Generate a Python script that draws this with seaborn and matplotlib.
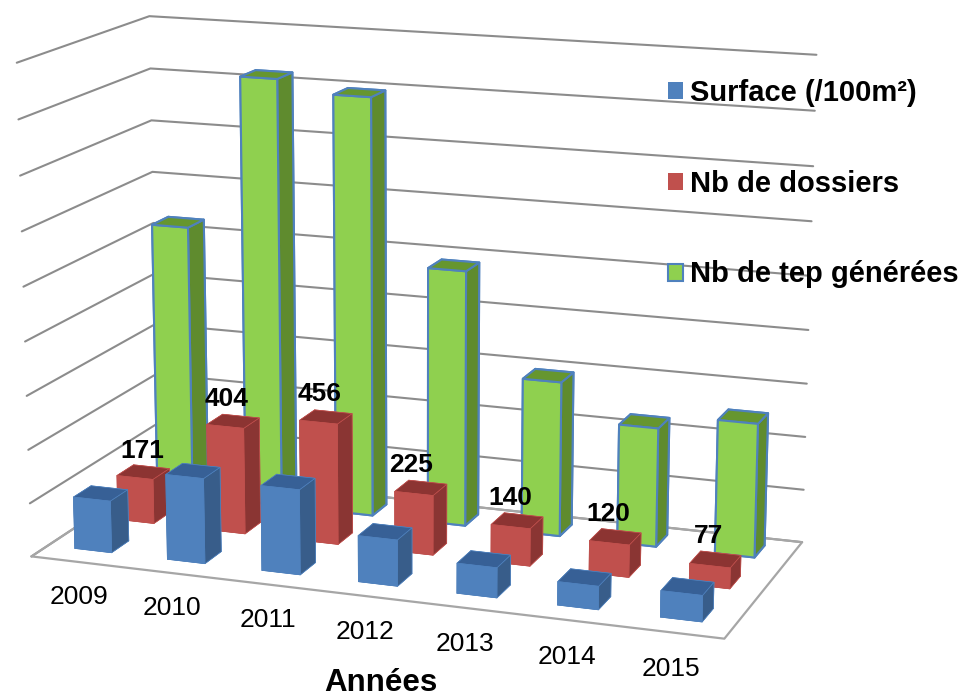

import numpy as np, matplotlib
matplotlib.use('Agg')
import matplotlib.pyplot as plt
import seaborn as sns
from matplotlib.patches import Patch
from mpl_toolkits.mplot3d import Axes3D, proj3d

years = ['2009', '2010', '2011', '2012', '2013', '2014', '2015']
surface = [195, 318, 315, 170, 110, 85, 95]
dossiers = [171, 404, 456, 225, 140, 120, 77]
tep = [1049, 1635, 1590, 970, 585, 447, 500]
series_names = ['Surface (/100m²)', 'Nb de dossiers', 'Nb de tep générées']
series_values = [surface, dossiers, tep]
front_colors = ['#4F81BD', '#C0504D', '#8FD04F']
top_colors = ['#376096', '#8C3432', '#66962F']
side_colors = ['#385D8A', '#8A3533', '#5F8B2E']
edge_colors = ['#4F81BD', '#C0504D', '#4F81BD']
z_ticks = np.arange(0, 2000, 200)

sns.set_theme(style='white')
plt.rcParams['font.family'] = ['Liberation Sans', 'DejaVu Sans']

W, H = 965, 698
fig = plt.figure(figsize=(W / 100, H / 100), dpi=100)
S, TX, TY = 4904.153, 419.384, 308.512
L = S * 0.185
ax = fig.add_axes([(TX - 0.095 * S) / W, (H - TY - 0.095 * S) / H, L / W, L / H], projection='3d')
n = len(years)
ax.set_xlim(0, n, view_margin=0)
ax.set_ylim(0, 3, view_margin=0)
ax.set_zlim(0, z_ticks[-1], view_margin=0)
ax.view_init(elev=13.9557, azim=-70.0817)
ax.set_proj_type('persp', focal_length=0.6724)
ax.set_box_aspect((2.3212, 1, 1.6242))
ax.computed_zorder = False
ax.patch.set_alpha(0)
ax.set_axis_off()
for a in (ax.xaxis, ax.yaxis, ax.zaxis):
    a.set_visible(False)
for t in (ax.title, ax._left_title, ax._right_title):
    t.set_visible(False)

# walls' gridlines: left wall (x=0) and back wall (y=3)
for z in z_ticks:
    ax.plot([0, 0, n], [0, 3, 3], [z, z, z], color='#8C8C8C', lw=1.5, zorder=1)

# floor frame
ax.plot([0, n, n, 0], [0, 0, 3, 3], [0, 0, 0, 0], color='#A6A6A6', lw=1.6, zorder=1)
ax.plot([0, 0], [0, 3], [0, 0], color='#A6A6A6', lw=1.6, zorder=1)

row_x0 = [0.29, 0.29, 0.275]
bar_w = 0.40
row_y = [0.37, 1.37, 2.37]
bar_d = 0.40
order = 2
for s in (2, 1, 0):
    for i, v in enumerate(series_values[s]):
        cols = [top_colors[s], top_colors[s], front_colors[s], front_colors[s], side_colors[s], side_colors[s]]
        ax.bar3d(i + row_x0[s], row_y[s], 0, bar_w, bar_d, v, color=cols, shade=False,
                 edgecolor=edge_colors[s], linewidth=1.5 if s == 2 else 0.5, zorder=order)
        order += 1


def text_at(x, y, z, s, **kw):
    """Place a label at a 3D data position, through the axes' own projection."""
    px, py, _ = proj3d.proj_transform(x, y, z, ax.get_proj())
    ax.text2D(px, py, s, transform=ax.transData, ha='center', va='center', color='black', zorder=100, **kw)


label_dx = [0.01, -0.05, -0.05, -0.08, -0.05, -0.05, -0.05]
for i, v in enumerate(dossiers):
    text_at(i + 0.47 + label_dx[i], row_y[1] + 0.2, v + 83, str(v), fontsize=19, fontweight='bold')
for i, y in enumerate(years):
    text_at(i + 0.50, 0, -132, y, fontsize=19)

handles = [Patch(facecolor=front_colors[i], edgecolor=edge_colors[i], linewidth=1.5 if i == 2 else 0) for i in range(3)]
fig.legend(handles, series_names, loc='upper left', bbox_to_anchor=(668 / W, 1 - 79 / H),
           frameon=False, prop={'size': 21, 'weight': 'bold'}, labelcolor='black', handlelength=0.52, handleheight=0.52,
           labelspacing=2.15, handletextpad=0.24, borderpad=0, borderaxespad=0)
fig.text(381 / W, 1 - 683 / H, 'Années', ha='center', va='center', fontsize=22.5, fontweight='bold', color='black')
fig.savefig('out.png', dpi=100)
